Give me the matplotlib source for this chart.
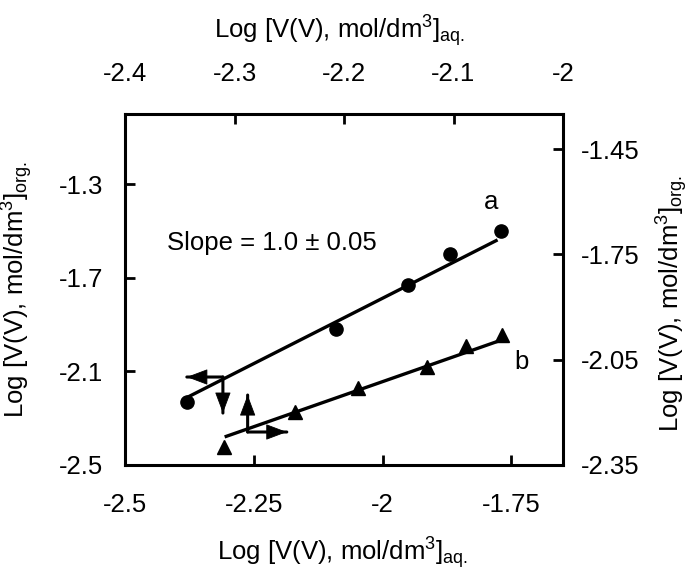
import matplotlib
matplotlib.use("Agg")
import matplotlib.pyplot as plt

plt.rcParams['font.family'] = ['Liberation Sans', 'DejaVu Sans']
plt.rcParams['mathtext.default'] = 'regular'
plt.rcParams['axes.unicode_minus'] = False

# Series a: bottom x-axis / left y-axis
a_x = [-2.38, -2.09, -1.95, -1.87, -1.77]
a_y = [-2.23, -1.92, -1.73, -1.60, -1.50]
fit_a_x = [-2.382, -1.777]
fit_a_y = [-2.214, -1.538]

# Series b: top x-axis / right y-axis
b_x = [-2.31, -2.245, -2.187, -2.124, -2.089, -2.056]
b_y = [-2.30, -2.20, -2.13, -2.07, -2.01, -1.98]
fit_b_x = [-2.309, -2.059]
fit_b_y = [-2.270, -1.997]

bottom_ticks = [-2.5, -2.25, -2.0, -1.75]
bottom_labels = ['-2.5', '-2.25', '-2', '-1.75']
left_ticks = [-2.5, -2.1, -1.7, -1.3]
left_labels = ['-2.5', '-2.1', '-1.7', '-1.3']
top_ticks = [-2.4, -2.3, -2.2, -2.1, -2.0]
top_labels = ['-2.4', '-2.3', '-2.2', '-2.1', '-2']
right_ticks = [-2.35, -2.05, -1.75, -1.45]
right_labels = ['-2.35', '-2.05', '-1.75', '-1.45']

xlabel = 'Log [V(V), mol/dm$^3$]$_{aq.}$'
ylabel = 'Log [V(V), mol/dm$^3$]$_{org.}$'

fs = 18.5
fig = plt.figure(figsize=(6.91, 5.74), dpi=100)
pos = [125/691, 1 - 465/574, 438/691, 351/574]
ax = fig.add_axes(pos)
ax2 = fig.add_axes(pos, frameon=False)
ax2.patch.set_visible(False)

ax.set_xlim(-2.5, -1.65)
ax.set_ylim(-2.5, -1.0)
ax2.set_xlim(-2.4, -2.0)
ax2.set_ylim(-2.35, -1.35)

for s in ax.spines.values():
    s.set_linewidth(2.2)

ax.set_xticks(bottom_ticks)
ax.set_xticklabels(bottom_labels)
ax.set_yticks(left_ticks)
ax.set_yticklabels(left_labels)
ax.tick_params(direction='in', length=7, width=2, labelsize=fs)
ax.tick_params(axis='x', pad=20)
ax.tick_params(axis='y', pad=16)

ax2.xaxis.tick_top()
ax2.yaxis.tick_right()
ax2.xaxis.set_label_position('top')
ax2.yaxis.set_label_position('right')
ax2.set_xticks(top_ticks)
ax2.set_xticklabels(top_labels)
ax2.set_yticks(right_ticks)
ax2.set_yticklabels(right_labels)
ax2.tick_params(direction='in', length=7, width=2, labelsize=fs)
ax2.tick_params(axis='x', pad=20)
ax2.tick_params(axis='y', pad=13)

ax.set_xlabel(xlabel, fontsize=fs)
ax.set_ylabel(ylabel, fontsize=fs)
ax2.set_xlabel(xlabel, fontsize=fs)
ax2.set_ylabel(ylabel, fontsize=fs, rotation=90)
ax.xaxis.set_label_coords(0.497, -0.2)
ax.yaxis.set_label_coords(-0.205, 0.5)
ax2.xaxis.set_label_coords(0.49, 1.215)
ax2.yaxis.set_label_coords(1.208, 0.46)

# series a
ax.plot(fit_a_x, fit_a_y, color='black', lw=2.4, solid_capstyle='butt')
ax.plot(a_x, a_y, 'o', color='black', ms=9.5)
# series b
ax2.plot(fit_b_x, fit_b_y, color='black', lw=2.4, solid_capstyle='butt')
ax2.plot(b_x, b_y, '^', color='black', ms=10.5)

# axis-indicator arrows
arrow_a_origin = (-2.310, -2.124)
arrow_a_left_x = -2.380
arrow_a_down_y = -2.278
arrow_b_origin = (-2.262, -2.359)
arrow_b_up_y = -2.201
arrow_b_right_x = -2.186

shaft = dict(arrowstyle='-', lw=2.2, color='black', shrinkA=0, shrinkB=0)
head = dict(arrowstyle='-|>,head_length=0.85,head_width=0.32', lw=0.6,
            color='black', mutation_scale=16, shrinkA=0, shrinkB=0)
arrow_tips = [
    ((arrow_a_left_x, arrow_a_origin[1]), arrow_a_origin),
    ((arrow_a_origin[0], arrow_a_down_y), arrow_a_origin),
    ((arrow_b_origin[0], arrow_b_up_y), arrow_b_origin),
    ((arrow_b_right_x, arrow_b_origin[1]), arrow_b_origin),
]
for tip, origin in arrow_tips:
    ax.annotate('', xy=tip, xytext=origin, arrowprops=shaft)
    ax.annotate('', xy=tip, xytext=origin, arrowprops=head)

ax.text(-2.419, -1.55, 'Slope = 1.0 \u00b1 0.05', fontsize=fs, va='center', ha='left')
ax.text(-1.789, -1.376, 'a', fontsize=fs, va='center', ha='center')
ax.text(-1.731, -2.06, 'b', fontsize=fs, va='center', ha='center')

fig.savefig('out.png', dpi=100)
